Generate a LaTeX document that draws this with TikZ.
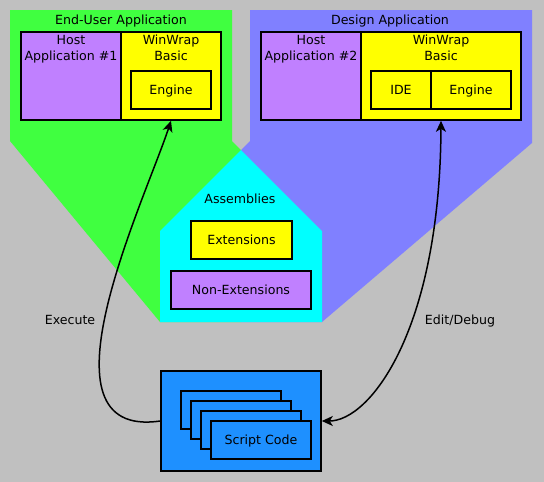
\documentclass[tikz,border=0pt]{standalone}
\usepackage{fontspec}
\setmainfont{DejaVu Sans}
\usetikzlibrary{arrows.meta}
\definecolor{bg}{HTML}{C0C0C0}
\definecolor{appgreen}{HTML}{40FF40}
\definecolor{appblue}{HTML}{8080FF}
\definecolor{asmcyan}{HTML}{00FFFF}
\definecolor{wwyellow}{HTML}{FFFF00}
\definecolor{hostpurple}{HTML}{C080FF}
\definecolor{scriptblue}{HTML}{1E90FF}
\begin{document}
\begin{tikzpicture}[x=1pt,y=-1pt,
  font=\fontsize{12.6}{16}\selectfont,
  box/.style={draw=black, line width=1.6pt, inner sep=0pt, text height=9pt, text depth=0pt},
  lbl/.style={anchor=base, inner sep=0pt},
  conn/.style={line width=1.5pt},
  >={Stealth[length=11pt,width=10pt,inset=3pt]}]
\useasboundingbox (0,0) rectangle (544,482);
\fill[bg] (0,0) rectangle (544,482);
% regions
\fill[appgreen] (10,10) -- (232,10) -- (232,141) -- (241,150) -- (241,322) -- (160,322) -- (10,141) -- cycle;
\fill[appblue] (250,10) -- (532,10) -- (532,143) -- (322,322) -- (241,322) -- (241,150) -- (250,141) -- cycle;
\fill[asmcyan] (241,150) -- (322,231) -- (322,322) -- (160,322) -- (160,231) -- cycle;
% titles
\node[lbl] (t1) at (121,24) {End-User Application};
\node[lbl] (t2) at (390,24) {Design Application};
\node[lbl] (t3) at (240,203) {Assemblies};
% end-user application
\node[box, fill=hostpurple, minimum width=100pt, minimum height=88pt] (host1) at (71,76) {};
\node[box, fill=wwyellow, minimum width=100pt, minimum height=88pt] (ww1) at (171,76) {};
\node[lbl] (h1a) at (71,44) {Host};
\node[lbl] (h1b) at (71,60) {Application \#1};
\node[lbl] (w1a) at (171,44) {WinWrap};
\node[lbl] (w1b) at (171,60) {Basic};
\node[box, fill=wwyellow, minimum width=80pt, minimum height=38pt] (eng1) at (171,90) {Engine};
% design application
\node[box, fill=hostpurple, minimum width=100pt, minimum height=88pt] (host2) at (311,76) {};
\node[box, fill=wwyellow, minimum width=160pt, minimum height=88pt] (ww2) at (441,76) {};
\node[lbl] (h2a) at (311,44) {Host};
\node[lbl] (h2b) at (311,60) {Application \#2};
\node[lbl] (w2a) at (441,44) {WinWrap};
\node[lbl] (w2b) at (441,60) {Basic};
\node[box, fill=wwyellow, minimum width=60pt, minimum height=38pt] (ide) at (401,90) {IDE};
\node[box, fill=wwyellow, minimum width=80pt, minimum height=38pt] (eng2) at (471,90) {Engine};
% assemblies
\node[box, fill=wwyellow, minimum width=101pt, minimum height=38pt] (ext) at (241.5,240) {Extensions};
\node[box, fill=hostpurple, minimum width=140pt, minimum height=38pt] (next) at (241,290) {Non-Extensions};
% script code
\node[box, fill=scriptblue, minimum width=160pt, minimum height=100pt] (script) at (241,421) {};
\node[box, fill=scriptblue, minimum width=100pt, minimum height=38pt] (p1) at (231,410) {};
\node[box, fill=scriptblue, minimum width=100pt, minimum height=38pt] (p2) at (241,420) {};
\node[box, fill=scriptblue, minimum width=100pt, minimum height=38pt] (p3) at (251,430) {};
\node[box, fill=scriptblue, minimum width=100pt, minimum height=38pt] (p4) at (261,440) {Script Code};
% connectors
\draw[conn, ->] (script.west) .. controls (30,440) and (145,200) .. (ww1.south);
\draw[conn, <->] (script.east) .. controls (370,421) and (440,330) .. (ww2.south);
\node[lbl] (ex) at (70,324) {Execute};
\node[lbl] (ed) at (460,324) {Edit/Debug};
\end{tikzpicture}
\end{document}
